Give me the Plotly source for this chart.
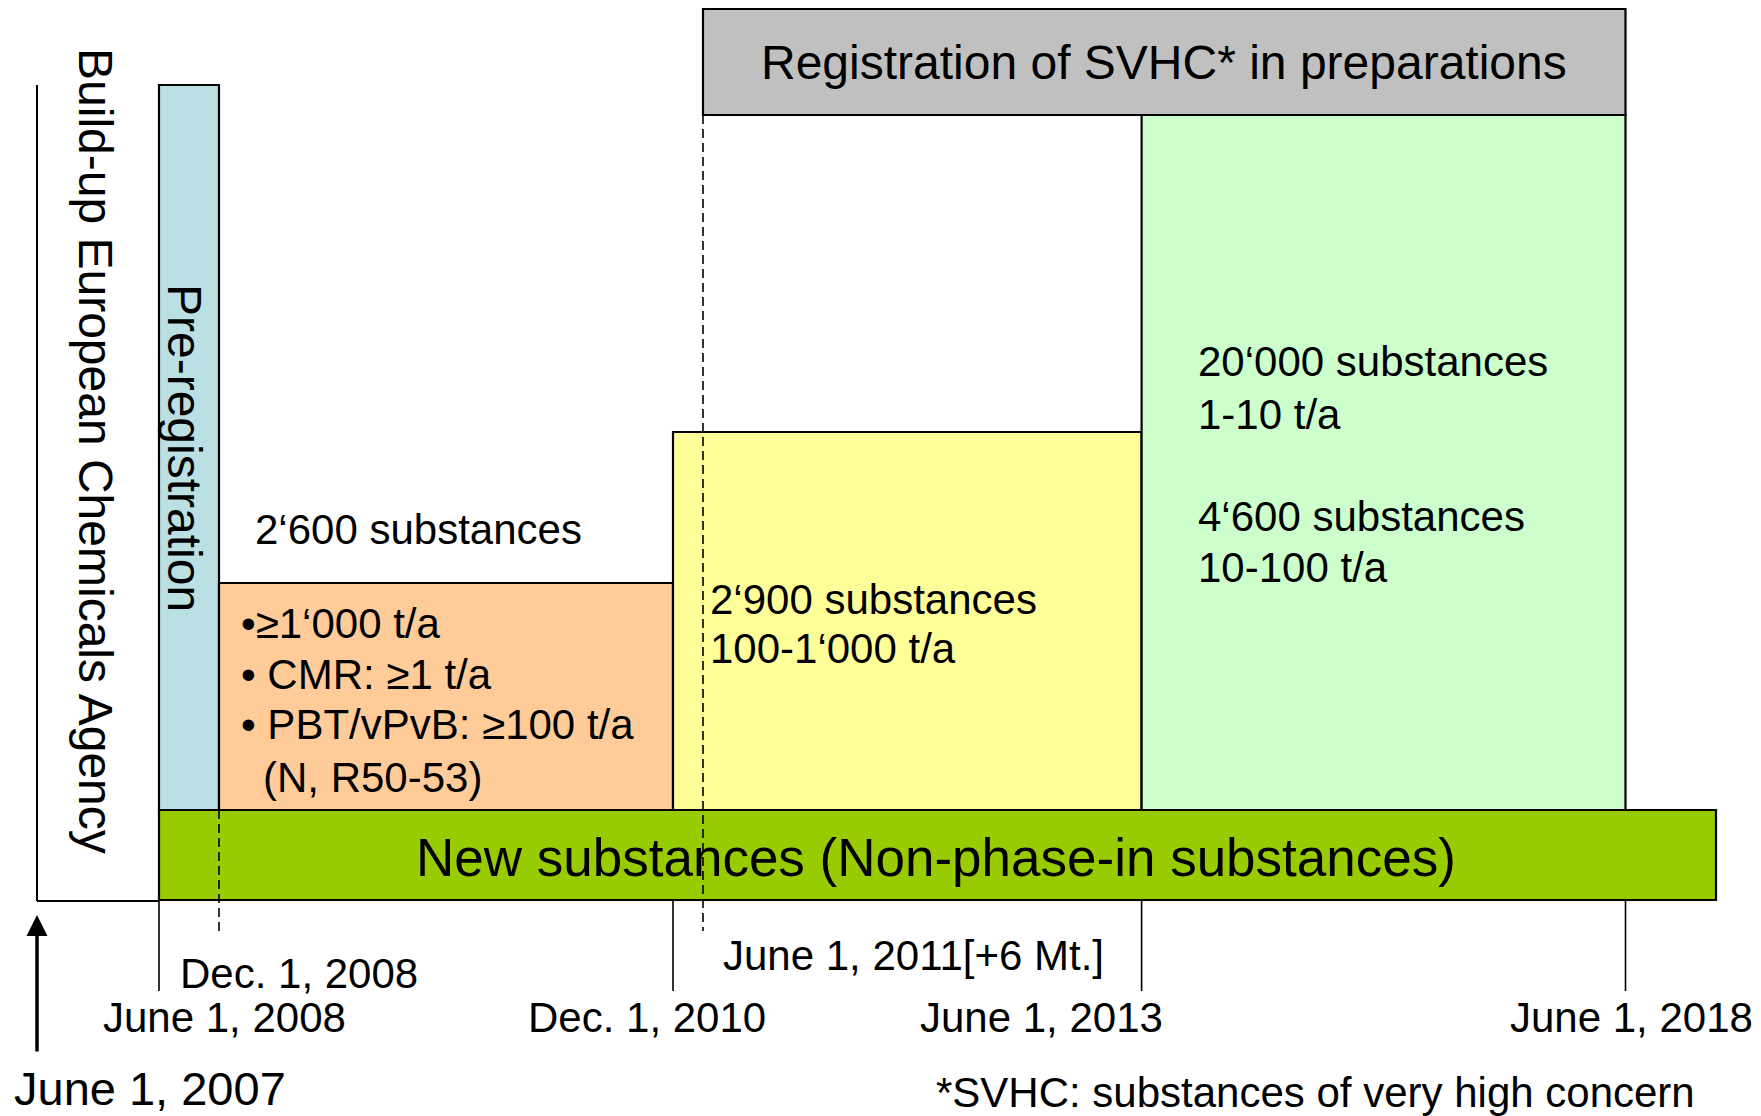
import plotly.graph_objects as go

W, H = 1761, 1116
FONT = "Liberation Sans, Arial, sans-serif"

# ---- timeline data (diagram coordinates) ----
phase_names = ["Pre-registration", "≥1000 t/a phase", "100-1000 t/a phase",
               "1-100 t/a phase", "SVHC in preparations", "New substances"]
phase_x0 = [159, 219, 673, 1141.6, 703, 159]
phase_x1 = [219, 673, 1141.6, 1625.5, 1625.5, 1716]
phase_y0 = [85, 583, 432, 115, 9, 810]
phase_y1 = [810, 810, 810, 810, 115, 900]
phase_colors = ["#BBE0E3", "#FFCC99", "#FFFF99", "#CCFFCC", "#C0C0C0", "#99CC00"]

# milestone tick lines
solid_tick_x = [159, 673, 1141.6, 1625.5]
dashed_tick_x = [219, 703]
dashed_tick_top = [810, 115]

milestone_labels = ["June 1, 2008", "Dec. 1, 2008", "Dec. 1, 2010",
                    "June 1, 2011[+6 Mt.]", "June 1, 2013", "June 1, 2018"]

fig = go.Figure()
shapes = []
for x0, x1, y0, y1, c in zip(phase_x0, phase_x1, phase_y0, phase_y1, phase_colors):
    shapes.append(dict(type="rect", xref="x", yref="y", x0=x0, x1=x1, y0=y0, y1=y1,
                       fillcolor=c, line=dict(color="black", width=2.2), layer="below"))

# agency frame lines
shapes.append(dict(type="line", xref="x", yref="y", x0=37, x1=37, y0=85, y1=901,
                   line=dict(color="black", width=2)))
shapes.append(dict(type="line", xref="x", yref="y", x0=37, x1=159, y0=901, y1=901,
                   line=dict(color="black", width=2)))
for x in solid_tick_x:
    shapes.append(dict(type="line", xref="x", yref="y", x0=x, x1=x, y0=900, y1=991,
                       line=dict(color="black", width=1.6)))
for x, t in zip(dashed_tick_x, dashed_tick_top):
    shapes.append(dict(type="line", xref="x", yref="y", x0=x, x1=x, y0=t, y1=931,
                       line=dict(color="black", width=1.6, dash="9px,5px")))
fig.update_layout(shapes=shapes)

ann = []
def txt(x, y, s, size=42, xanchor="left", angle=0):
    ann.append(dict(x=x, y=y, xref="x", yref="y", text=s, showarrow=False,
                    xanchor=xanchor, yanchor="middle", textangle=angle, borderpad=0,
                    font=dict(family=FONT, size=size, color="black")))

txt(1163.5, 62, "Registration of SVHC* in preparations", 48, "center")
txt(96, 451, "Build-up European Chemicals Agency", 48, "center", 90)
txt(185, 448, "Pre-registration", 48, "center", 90)
txt(254, 529, "2‘600 substances")
txt(240, 623, "•≥1‘000 t/a")
txt(240, 674, "• CMR: ≥1 t/a")
txt(240, 724, "• PBT/vPvB: ≥100 t/a")
txt(262, 777, "(N, R50-53)")
txt(709, 599, "2‘900 substances")
txt(709, 648, "100-1‘000 t/a")
txt(1197, 361, "20‘000 substances")
txt(1197, 414, "1-10 t/a")
txt(1197, 516, "4‘600 substances")
txt(1197, 567, "10-100 t/a")
txt(936, 857, "New substances (Non-phase-in substances)", 53, "center")
txt(224, 1017, milestone_labels[0], 42, "center")
txt(298.5, 973, milestone_labels[1], 42, "center")
txt(646.5, 1017, milestone_labels[2], 42, "center")
txt(722, 955, milestone_labels[3])
txt(1041.5, 1017, milestone_labels[4], 42, "center")
txt(1631.5, 1017, milestone_labels[5], 42, "center")
txt(13, 1088, "June 1, 2007", 47)
txt(935, 1092, "*SVHC: substances of very high concern", 42)

ann.append(dict(x=37, y=915, ax=37, ay=1053, xref="x", yref="y", axref="x", ayref="y",
                showarrow=True, arrowhead=2, arrowsize=1.2, arrowwidth=3.5,
                arrowcolor="black", text=""))

fig.update_layout(
    annotations=ann,
    width=W, height=H, autosize=False,
    margin=dict(l=0, r=0, t=0, b=0),
    paper_bgcolor="white", plot_bgcolor="white",
    xaxis=dict(range=[0, W], visible=False, fixedrange=True),
    yaxis=dict(range=[H, 0], visible=False, fixedrange=True),
    showlegend=False,
)
fig.write_html("out.html", config={"displayModeBar": False},
               post_script="document.body.style.margin='0px';document.body.style.overflow='hidden';")
